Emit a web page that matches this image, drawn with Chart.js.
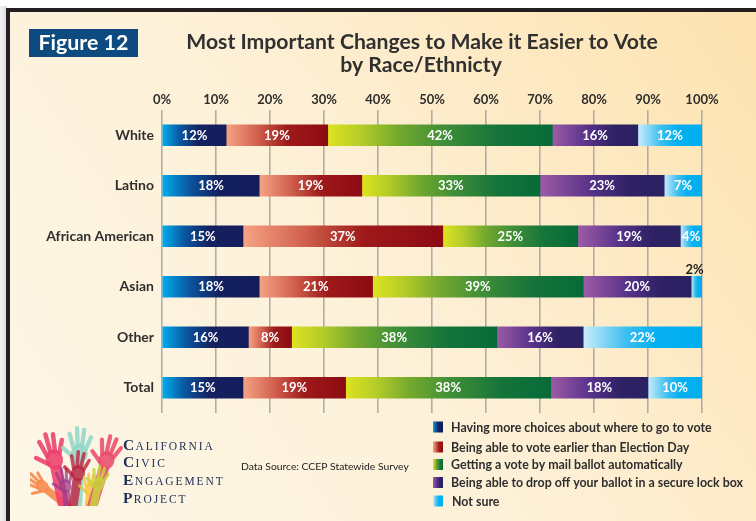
<!DOCTYPE html>
<html><head><meta charset="utf-8">
<script src="https://cdn.jsdelivr.net/npm/chart.js@4.4.1/dist/chart.umd.min.js"></script>
<style>html,body{margin:0;padding:0;background:#fff;overflow:hidden}canvas{display:block}</style>
</head><body><canvas id="c" width="756" height="521"></canvas>
<script>
// ---------- data ----------
const categories = ['White', 'Latino', 'African American', 'Asian', 'Other', 'Total'];
const seriesNames = [
  'Having more choices about where to go to vote',
  'Being able to vote earlier than Election Day',
  'Getting a vote by mail ballot automatically',
  'Being able to drop off your ballot in a secure lock box',
  'Not sure'
];
const choicesWhere = [12, 18, 15, 18, 16, 15];
const voteEarlier  = [19, 19, 37, 21, 8, 19];
const mailBallot   = [42, 33, 25, 39, 38, 38];
const dropOffBox   = [16, 23, 19, 20, 16, 18];
const notSure      = [12, 7, 4, 2, 22, 10];
const tickLabels = ['0%', '10%', '20%', '30%', '40%', '50%', '60%', '70%', '80%', '90%', '100%'];

const rawSeries = [choicesWhere, voteEarlier, mailBallot, dropOffBox, notSure];
const rowTotals = categories.map((_, i) => rawSeries.reduce((s, arr) => s + arr[i], 0));
const normSeries = rawSeries.map(arr => arr.map((v, i) => v / rowTotals[i] * 100));

// ---------- styles ----------
const gradStops = [
  [[0, '#00aeef'], [0.28, '#0b56a0'], [0.58, '#13215f'], [1, '#141c5c']],
  [[0, '#f6a385'], [0.3, '#d2624f'], [0.6, '#9e1a1a'], [1, '#8c0a12']],
  [[0, '#dde31f'], [0.15, '#b4cc28'], [0.32, '#72a82e'], [0.52, '#3f8e38'], [0.76, '#15743a'], [1, '#066b38']],
  [[0, '#9d5ba6'], [0.4, '#58338a'], [0.72, '#2e2164'], [1, '#2a2163']],
  [[0, '#c8edfb'], [0.35, '#40bff0'], [0.6, '#06b0f0'], [1, '#00aeef']]
];
const FONT = 'Lato, "Open Sans", sans-serif';
const DARK = '#2e2e2e';

function segGradient(d) {
  const stops = gradStops[d];
  return (ctx) => {
    const chart = ctx.chart;
    if (!chart.chartArea || ctx.type !== 'data' || !chart.scales.x) return stops[stops.length - 1][1];
    const xs = chart.scales.x;
    const i = ctx.dataIndex;
    let start = 0;
    for (let k = 0; k < d; k++) start += chart.data.datasets[k].data[i];
    const end = start + chart.data.datasets[d].data[i];
    const x0 = xs.getPixelForValue(start), x1 = xs.getPixelForValue(end);
    const g = chart.ctx.createLinearGradient(x0, 0, Math.max(x1, x0 + 1), 0);
    stops.forEach(s => g.addColorStop(s[0], s[1]));
    return g;
  };
}

function fitSize(c, text, weight, targetW) {
  c.font = `${weight} 100px ${FONT}`;
  return 100 * targetW / c.measureText(text).width;
}

// ---------- plugins ----------
const backdrop = {
  id: 'backdrop',
  beforeDraw(chart) {
    const c = chart.ctx;
    c.save();
    c.fillStyle = '#ffffff';
    c.fillRect(0, 0, 756, 521);
    const sh = c.createLinearGradient(0, 0, 7, 0);
    sh.addColorStop(0, '#f4f4f4'); sh.addColorStop(1, '#d8d8d8');
    c.fillStyle = sh; c.fillRect(0, 6, 7, 521);
    c.fillStyle = '#231f20';
    c.fillRect(6, 8, 760, 530);
    const g = c.createLinearGradient(10, 521, 756, 0);
    g.addColorStop(0, '#fdf7e8');
    g.addColorStop(0.5, '#fdf0d6');
    g.addColorStop(1, '#fde2ae');
    c.fillStyle = g;
    c.fillRect(10, 12, 760, 530);
    c.restore();
  }
};

function drawHand(c, wx, wy, ang, s, col, alpha, armLen) {
  c.save();
  c.translate(wx, wy); c.rotate(ang);
  c.globalAlpha = alpha;
  c.fillStyle = col; c.strokeStyle = col; c.lineCap = 'round';
  c.fillRect(-4.5 * s, -2 * s, 9 * s, armLen);
  c.beginPath(); c.ellipse(0, -7 * s, 7 * s, 8 * s, 0, 0, Math.PI * 2); c.fill();
  c.lineWidth = 3.6 * s;
  const fingers = [[-5, -11, -9, -23], [-1.8, -13, -3, -28], [1.8, -13, 3, -27], [5, -11, 9, -21]];
  fingers.forEach(f => { c.beginPath(); c.moveTo(f[0] * s, f[1] * s); c.lineTo(f[2] * s, f[3] * s); c.stroke(); });
  c.beginPath(); c.moveTo(-5 * s, -4 * s); c.lineTo(-14 * s, -11 * s); c.stroke();
  c.restore();
}

const decorations = {
  id: 'decorations',
  afterDraw(chart) {
    const c = chart.ctx;
    c.save();
    // Figure box
    c.fillStyle = '#0d4a7f';
    c.fillRect(29, 29, 109, 28);
    let fs = fitSize(c, 'Figure 12', 'bold', 90);
    c.font = `bold ${fs}px ${FONT}`;
    c.fillStyle = '#ffffff'; c.textBaseline = 'middle'; c.textAlign = 'left';
    c.fillText('Figure 12', 38.5, 43.5);
    // Title
    const t1 = 'Most Important Changes to Make it Easier to Vote';
    fs = fitSize(c, t1, 'bold', 472);
    c.font = `bold ${fs}px ${FONT}`;
    c.fillStyle = '#303030'; c.textAlign = 'center';
    c.fillText(t1, 422, 42);
    c.fillText('by Race/Ethnicty', 421, 65.5);
    // Legend
    const legY = [427, 447, 464.5, 482.5, 501];
    fs = fitSize(c, seriesNames[0], 'bold', 261);
    c.font = `bold ${fs}px ${FONT}`;
    c.textAlign = 'left';
    seriesNames.forEach((name, d) => {
      const g = c.createLinearGradient(433, 0, 443, 0);
      gradStops[d].forEach(s => g.addColorStop(s[0], s[1]));
      c.fillStyle = g;
      c.fillRect(433, legY[d] - 5.5, 10, 11);
      c.fillStyle = DARK;
      c.fillText(name, d === 4 ? 452 : 451, legY[d] + 0.5);
    });
    // Data source
    const src = 'Data Source: CCEP Statewide Survey';
    fs = fitSize(c, src, 'normal', 168);
    c.font = `normal ${fs}px ${FONT}`;
    c.fillStyle = '#222';
    c.fillText(src, 241, 467);
    // Logo hands
    c.save();
    c.beginPath(); c.rect(30, 420, 95, 86); c.clip();
    const hands = [
      [47, 490, -0.9, 0.85, '#f7894e', 0.9, 40],
      [56, 468, -0.2, 1.25, '#ec3f6c', 0.88, 50],
      [66, 492, -0.1, 0.85, '#9c3a8a', 0.75, 30],
      [79, 462, 0.05, 1.2, '#8fd6c8', 0.85, 55],
      [77, 480, 0.15, 1.0, '#c0223f', 0.8, 40],
      [89, 495, 0.1, 0.75, '#f4c030', 0.75, 30],
      [104, 468, 0.3, 1.15, '#ea4d6c', 0.88, 55],
      [97, 490, 0.22, 0.85, '#c6d43a', 0.85, 35]
    ];
    hands.forEach(h => drawHand(c, ...h));
    c.restore();
    // Logo text
    const logoLines = ['CALIFORNIA', 'CIVIC', 'ENGAGEMENT', 'PROJECT'];
    const logoBase = [449.5, 467, 485, 503];
    c.fillStyle = '#22305a';
    c.textBaseline = 'alphabetic';
    logoLines.forEach((w, li) => {
      let x = 123;
      c.font = 'bold 15.5px "Liberation Serif", serif';
      c.fillText(w[0], x, logoBase[li]);
      x += c.measureText(w[0]).width + 1.4;
      c.font = '11.5px "Liberation Serif", serif';
      for (const ch of w.slice(1)) {
        c.fillText(ch, x, logoBase[li]);
        x += c.measureText(ch).width + 1.9;
      }
    });
    c.restore();
  }
};

const barLabels = {
  id: 'barLabels',
  afterDatasetsDraw(chart) {
    const c = chart.ctx;
    c.save();
    c.font = `bold 13px ${FONT}`;
    c.textAlign = 'center'; c.textBaseline = 'middle';
    chart.data.datasets.forEach((ds, d) => {
      const meta = chart.getDatasetMeta(d);
      meta.data.forEach((el, i) => {
        const p = el.getProps(['x', 'base', 'y', 'height'], true);
        const w = Math.abs(p.x - p.base);
        const cx = (p.x + p.base) / 2;
        const txt = rawSeries[d][i] + '%';
        if (w < 16) {
          c.fillStyle = '#222';
          c.fillText(txt, cx - 2, p.y - p.height / 2 - 6);
        } else {
          c.fillStyle = '#ffffff';
          c.fillText(txt, cx, p.y + 0.5);
        }
      });
    });
    c.restore();
  }
};

// ---------- chart ----------
new Chart(document.getElementById('c'), {
  type: 'bar',
  data: {
    labels: categories,
    datasets: normSeries.map((arr, d) => ({
      label: seriesNames[d],
      data: arr,
      backgroundColor: segGradient(d),
      borderWidth: 0,
      barThickness: 21
    }))
  },
  options: {
    indexAxis: 'y',
    responsive: false,
    animation: false,
    devicePixelRatio: 1,
    layout: { padding: { left: 0, top: 0, right: 54, bottom: 108 } },
    plugins: { legend: { display: false }, tooltip: { enabled: false } },
    scales: {
      x: {
        position: 'top', stacked: true, min: 0, max: 100,
        ticks: {
          stepSize: 10, autoSkip: false, maxRotation: 0,
          callback: (v, i) => tickLabels[i],
          font: { family: FONT, weight: 'bold', size: 13 }, color: DARK, padding: 2
        },
        grid: { color: '#b2ada4', lineWidth: 1.6, drawTicks: false },
        border: { display: false },
        afterFit(s) { s.height = 110; }
      },
      y: {
        stacked: true,
        ticks: { font: { family: FONT, weight: 'bold', size: 14 }, color: DARK, padding: 8 },
        grid: { display: false, drawTicks: false },
        border: { display: false },
        afterFit(s) { s.width = 162; }
      }
    }
  },
  plugins: [backdrop, barLabels, decorations]
});
</script>
</body></html>
